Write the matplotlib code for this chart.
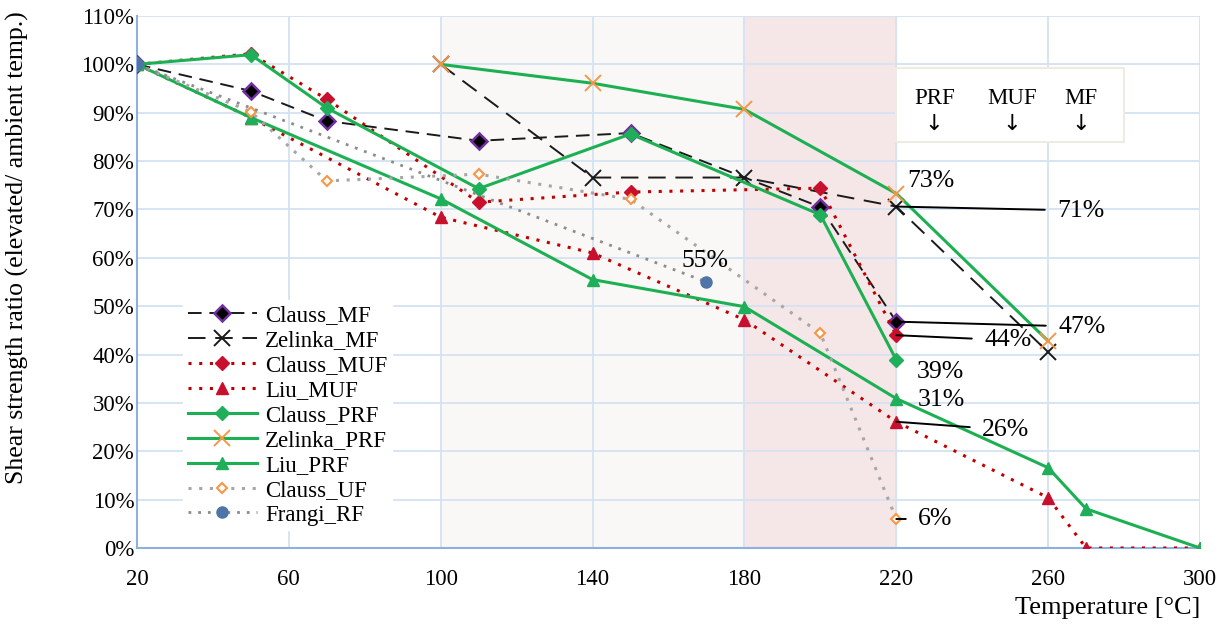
import numpy as np
import matplotlib
matplotlib.use("Agg")
import matplotlib.pyplot as plt
from matplotlib.ticker import FuncFormatter

plt.rcParams["font.family"] = ["Liberation Serif", "DejaVu Serif"]
plt.rcParams["font.size"] = 15

# --- data (ratio in %) ---
clauss_mf_x = [20, 50, 70, 110, 150, 200, 220]
clauss_mf_y = [100, 94.5, 88.3, 84.2, 85.8, 70.5, 46.8]

zelinka_mf_x = [100, 140, 180, 220, 260]
zelinka_mf_y = [100, 76.6, 76.6, 70.6, 40.5]

clauss_muf_x = [20, 50, 70, 110, 150, 200, 220]
clauss_muf_y = [100, 102.2, 92.8, 71.5, 73.6, 74.4, 44.0]

liu_muf_x = [20, 50, 100, 140, 180, 220, 260, 270, 300]
liu_muf_y = [100, 89.0, 68.4, 61.0, 47.2, 26.1, 10.4, 0, 0]

clauss_prf_x = [20, 50, 70, 110, 150, 200, 220]
clauss_prf_y = [100, 102.0, 91.0, 74.3, 85.6, 68.9, 38.9]

zelinka_prf_x = [100, 140, 180, 220, 260]
zelinka_prf_y = [100, 96.1, 90.7, 73.3, 42.8]

liu_prf_x = [20, 50, 100, 140, 180, 220, 260, 270, 300]
liu_prf_y = [100, 89.0, 72.2, 55.5, 49.9, 30.9, 16.6, 8.1, 0]

clauss_uf_x = [20, 50, 70, 110, 150, 200, 220]
clauss_uf_y = [100, 90.2, 75.9, 77.3, 72.1, 44.4, 6.0]

frangi_rf_x = [20, 170]
frangi_rf_y = [100, 55.0]

x_ticks = [20, 60, 100, 140, 180, 220, 260, 300]
y_ticks = np.arange(0, 111, 10)

green = "#1db052"
red = "#c00000"
grey = "#a6a6a6"
orange = "#f79646"

fig = plt.figure(figsize=(12.25, 6.28), dpi=100, facecolor="white")
ax = fig.add_axes([0.1118, 0.1274, 0.8678, 0.8471])

ax.axvspan(100, 180, color="#faf8f7", zorder=0)
ax.axvspan(180, 220, color="#f5e7e8", zorder=0)

ax.set_xlim(20, 300)
ax.set_ylim(0, 110)
ax.set_xticks(x_ticks)
ax.set_yticks(y_ticks)
ax.yaxis.set_major_formatter(FuncFormatter(lambda v, p: f"{v:.0f}%"))
ax.grid(True, color="#d6e2f2", lw=1.3, zorder=1)
ax.set_axisbelow(True)
ax.tick_params(axis="y", length=0, pad=2, labelsize=16.5)
ax.tick_params(axis="x", length=0, pad=15, labelsize=16.5)
for s in ["top", "right"]:
    ax.spines[s].set_visible(False)
for s in ["left", "bottom"]:
    ax.spines[s].set_color("#8eb0dc")
    ax.spines[s].set_linewidth(1.5)

ax.plot(clauss_mf_x, clauss_mf_y, color="#1a1a1a", ls=(0, (7, 4)), lw=1.4,
        marker="D", ms=8, mfc="black", mec="#7030a0", mew=1.8, label="Clauss_MF", zorder=5)
ax.plot(zelinka_mf_x, zelinka_mf_y, color="#1a1a1a", ls=(0, (9, 5)), lw=1.4,
        marker="x", ms=11, mec="#1a1a1a", mew=1.4, label="Zelinka_MF", zorder=5)
ax.plot(clauss_muf_x, clauss_muf_y, color=red, ls=(0, (1, 2.5)), lw=2.2,
        marker="D", ms=7.5, mfc="#c8102e", mec="#c8102e", label="Clauss_MUF", zorder=5)
ax.plot(liu_muf_x, liu_muf_y, color=red, ls=(0, (1, 2.5)), lw=2.2,
        marker="^", ms=9, mfc="#c8102e", mec="#c8102e", label="Liu_MUF", zorder=5)
ax.plot(clauss_prf_x, clauss_prf_y, color=green, lw=2.2,
        marker="D", ms=7.5, mfc="#1fae5a", mec="#1fae5a", label="Clauss_PRF", zorder=5)
ax.plot(zelinka_prf_x, zelinka_prf_y, color=green, lw=2.2,
        marker="x", ms=12, mec=orange, mew=1.4, label="Zelinka_PRF", zorder=6)
ax.plot(liu_prf_x, liu_prf_y, color=green, lw=2.2,
        marker="^", ms=9, mfc="#1fae5a", mec="#1fae5a", label="Liu_PRF", zorder=5)
ax.plot(clauss_uf_x, clauss_uf_y, color=grey, ls=(0, (1, 2.5)), lw=2.2,
        marker="D", ms=5.5, mfc="white", mec=orange, mew=1.5, label="Clauss_UF", zorder=5)
ax.plot(frangi_rf_x, frangi_rf_y, color="#8c8c8c", ls=(0, (1, 2.5)), lw=2.0,
        marker="o", ms=8, mfc="#4f74a8", mec="#4f74a8", label="Frangi_RF", zorder=5)

leg = ax.legend(loc="upper left", bbox_to_anchor=(0.033, 0.487), frameon=True,
                fancybox=False, edgecolor="white", framealpha=1, fontsize=16.5,
                handlelength=3.0, labelspacing=0.17, handletextpad=0.35,
                borderpad=0.2)
leg.set_zorder(10)

# value labels
def label(x, y, txt, dx, dy, leader=False):
    ax.annotate(txt, xy=(x, y), xytext=(dx, dy), textcoords="offset pixels",
                ha="left", va="center", fontsize=18.5, zorder=12,
                arrowprops=dict(arrowstyle="-", color="black", lw=1.4,
                                shrinkA=7, shrinkB=0) if leader else None)

label(frangi_rf_x[-1], frangi_rf_y[-1], "55%", -25, 21)
label(zelinka_prf_x[3], zelinka_prf_y[3], "73%", 11, 13)
label(zelinka_mf_x[3], zelinka_mf_y[3], "71%", 161, -4, leader=True)
label(clauss_mf_x[6], clauss_mf_y[6], "47%", 162, -5, leader=True)
label(clauss_muf_x[6], clauss_muf_y[6], "44%", 88, -5, leader=True)
label(clauss_prf_x[6], clauss_prf_y[6], "39%", 20, -12)
label(liu_prf_x[5], liu_prf_y[5], "31%", 21, -1)
label(liu_muf_x[5], liu_muf_y[5], "26%", 86, -8, leader=True)
label(clauss_uf_x[6], clauss_uf_y[6], "6%", 22, 0, leader=True)

# PRF / MUF / MF box
box = plt.Rectangle((220, 84.0), 60, 15.2, facecolor="white", edgecolor="#eeebe2",
                    lw=1.5, zorder=11)
ax.add_patch(box)
for name, xp in [("PRF", 230), ("MUF", 250.5), ("MF", 268.5)]:
    ax.text(xp, 93.0, name, ha="center", va="center", fontsize=16.5, zorder=12)
    ax.text(xp, 87.6, "\u2193", ha="center", va="center", fontsize=16, zorder=12,
            family="DejaVu Sans")

ax.set_ylabel("Shear strength ratio (elevated/ ambient temp.)", fontsize=18.5, va="center")
ax.yaxis.set_label_coords(-0.112, 0.564)
ax.set_xlabel("Temperature [°C]", fontsize=19, ha="right", va="center")
ax.xaxis.set_label_coords(1.0, -0.113)

fig.savefig("out.png", dpi=100, facecolor="white")
